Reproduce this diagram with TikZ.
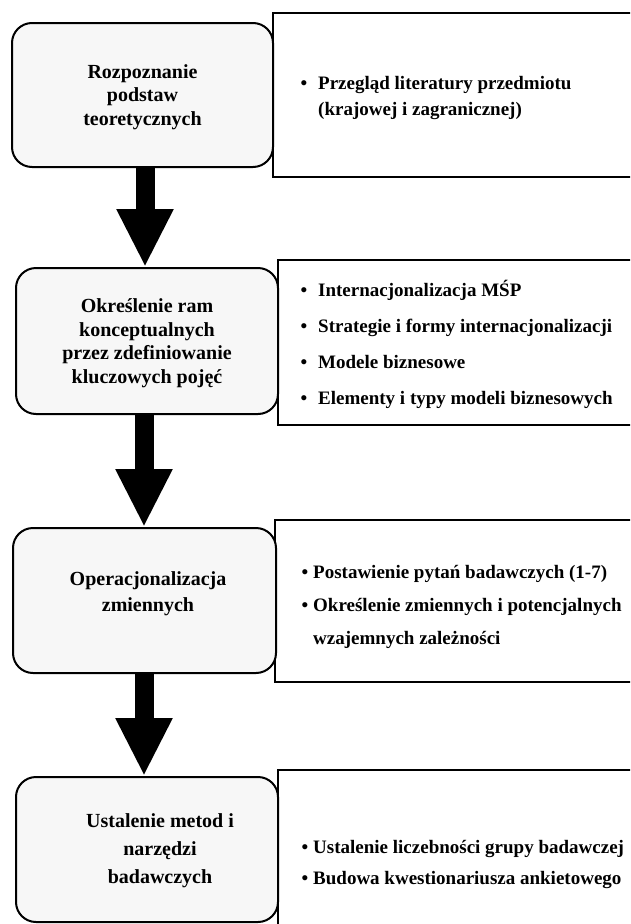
\documentclass[tikz,border=0pt]{standalone}
\usepackage{fontspec}
\setmainfont{Liberation Serif}
\usetikzlibrary{arrows.meta}
\begin{document}
\begin{tikzpicture}[x=1pt,y=-1pt,
  lbox/.style={draw=black, line width=2pt, rounded corners=20pt, fill=black!3, inner sep=0pt},
  rbox/.style={draw=black, line width=2.6pt, fill=white, inner sep=0pt},
  ltext/.style={font=\fontsize{20}{23.5}\selectfont\bfseries, align=center, inner sep=0pt},
  rtext/.style={font=\fontsize{19}{22}\selectfont\bfseries, anchor=base west, inner sep=0pt},
  bul/.style={font=\fontsize{19}{22}\selectfont\bfseries, anchor=base, inner sep=0pt},
  blockarrow/.style={line width=19pt, -{Triangle[width=53pt,length=58pt]}},
]
\useasboundingbox (0,0) rectangle (630,924);
\fill[white] (0,0) rectangle (630,924);
\clip (0,0) rectangle (630,924);

% right boxes
\node[rbox, minimum width=377pt, minimum height=164pt] (r1) at (461.5,95) {};
\node[rbox, minimum width=372pt, minimum height=165pt] (r2) at (464,342.5) {};
\node[rbox, minimum width=375pt, minimum height=162pt] (r3) at (462.5,601) {};
\node[rbox, minimum width=372pt, minimum height=180pt] (r4) at (464,860) {};

% left rounded boxes
\node[lbox, minimum width=261pt, minimum height=144pt] (b1) at (142.5,95) {};
\node[lbox, minimum width=262pt, minimum height=146pt] (b2) at (147,341) {};
\node[lbox, minimum width=263pt, minimum height=145pt] (b3) at (144.5,600.5) {};
\node[lbox, minimum width=262pt, minimum height=145pt] (b4) at (147,849.5) {};

% left texts
\node[ltext] (l1) at (142.5,97) {Rozpoznanie\\podstaw\\teoretycznych};
\node[ltext] (l2) at (147,343) {Określenie ram\\konceptualnych\\przez zdefiniowanie\\kluczowych pojęć};
\node[ltext, font=\fontsize{20}{26}\selectfont\bfseries] (l3) at (148,594) {Operacjonalizacja\\zmiennych};
\node[ltext, font=\fontsize{20}{28}\selectfont\bfseries] (l4) at (160,851) {Ustalenie metod i\\narzędzi\\badawczych};

% arrows
\coordinate (ax1) at (145,0);
\coordinate (ax2) at (144,0);
\draw[blockarrow] (b1.south -| ax1) -- (b2.north -| ax1);
\draw[blockarrow] (b2.south -| ax2) -- (b3.north -| ax2);
\draw[blockarrow] (b3.south -| ax2) -- (b4.north -| ax2);

% right texts, box 1
\node[bul] (p1b) at (304,89) {•};
\node[rtext] (p1a) at (318,89) {Przegląd literatury przedmiotu};
\node[rtext] (p1c) at (318,115) {(krajowej i zagranicznej)};

% box 2
\node[bul] (p2b1) at (304,296) {•};
\node[rtext] (p2t1) at (318,296) {Internacjonalizacja MŚP};
\node[bul] (p2b2) at (304,332) {•};
\node[rtext] (p2t2) at (318,332) {Strategie i formy internacjonalizacji};
\node[bul] (p2b3) at (304,368) {•};
\node[rtext] (p2t3) at (318,368) {Modele biznesowe};
\node[bul] (p2b4) at (304,404) {•};
\node[rtext] (p2t4) at (318,404) {Elementy i typy modeli biznesowych};

% box 3
\node[bul] (p3b1) at (305,578) {•};
\node[rtext] (p3t1) at (313,578) {Postawienie pytań badawczych (1-7)};
\node[bul] (p3b2) at (305,611) {•};
\node[rtext] (p3t2) at (313,611) {Określenie zmiennych i potencjalnych};
\node[rtext] (p3t3) at (313,644) {wzajemnych zależności};

% box 4
\node[bul] (p4b1) at (305,853) {•};
\node[rtext] (p4t1) at (313,853) {Ustalenie liczebności grupy badawczej};
\node[bul] (p4b2) at (305,884) {•};
\node[rtext] (p4t2) at (313,884) {Budowa kwestionariusza ankietowego};
\end{tikzpicture}
\end{document}
